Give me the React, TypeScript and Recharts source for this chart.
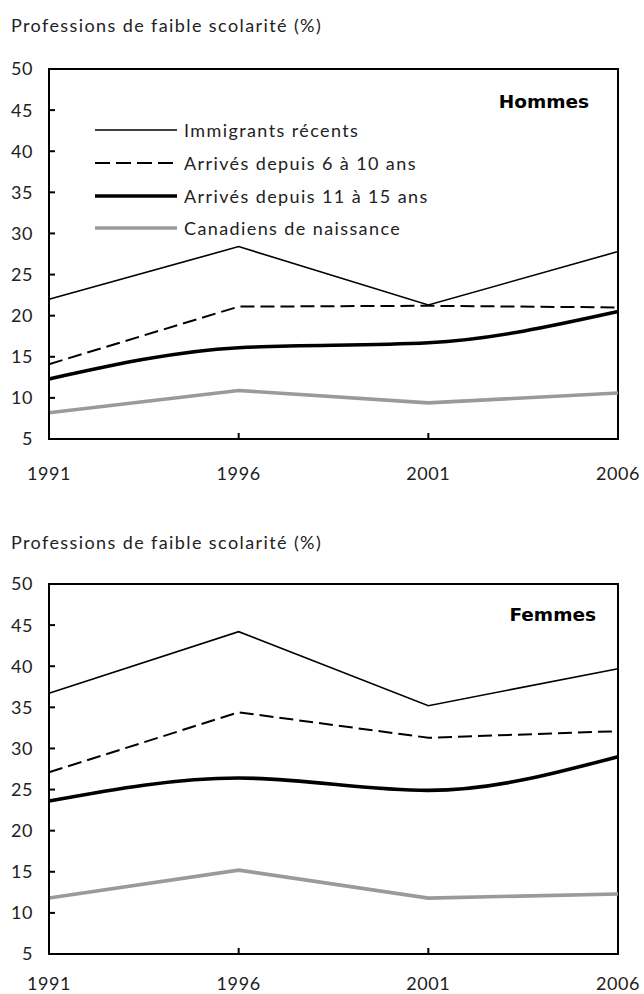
import React from 'react';
import { LineChart, Line, XAxis, YAxis, ReferenceArea, Legend } from 'recharts';

const years = [1991, 1996, 2001, 2006];
const yTicks = [5, 10, 15, 20, 25, 30, 35, 40, 45, 50];

// Hommes
const menRecent = [22.0, 28.4, 21.3, 27.8];
const men6to10 = [14.1, 21.1, 21.2, 21.0];
const men11to15 = [12.3, 16.1, 16.7, 20.5];
const menCanadian = [8.2, 10.9, 9.4, 10.6];

// Femmes
const womenRecent = [36.7, 44.2, 35.2, 39.7];
const women6to10 = [27.1, 34.4, 31.3, 32.1];
const women11to15 = [23.6, 26.4, 24.9, 29.0];
const womenCanadian = [11.8, 15.2, 11.8, 12.3];

const seriesOrder = ['recent', 'mid', 'long', 'canadian'];
const seriesNames: Record<string, string> = {
  recent: 'Immigrants récents',
  mid: 'Arrivés depuis 6 à 10 ans',
  long: 'Arrivés depuis 11 à 15 ans',
  canadian: 'Canadiens de naissance',
};

const FONT = 'Lato, "Open Sans", sans-serif';

const styles: Record<string, { stroke: string; width: number; dash?: string }> = {
  recent: { stroke: '#000', width: 1.6 },
  mid: { stroke: '#000', width: 2, dash: '14 6' },
  long: { stroke: '#000', width: 3.6 },
  canadian: { stroke: '#9a9a9a', width: 3.6 },
};

const buildRows = (a: number[], b: number[], c: number[], d: number[]) =>
  years.map((year, i) => ({ year, recent: a[i], mid: b[i], long: c[i], canadian: d[i] }));

const menData = buildRows(menRecent, men6to10, men11to15, menCanadian);
const womenData = buildRows(womenRecent, women6to10, women11to15, womenCanadian);

const renderLegend = (props: any) => {
  const items = [...(props.payload || [])].sort(
    (a: any, b: any) => seriesOrder.indexOf(a.dataKey) - seriesOrder.indexOf(b.dataKey)
  );
  return (
    <div style={{ fontFamily: FONT, fontSize: 18, letterSpacing: 1.4, color: '#222' }}>
      {items.map((entry: any) => {
        const s = styles[entry.dataKey];
        return (
          <div key={entry.dataKey} style={{ display: 'flex', alignItems: 'center', height: 32.7 }}>
            <svg width={82} height={10} style={{ marginRight: 7 }}>
              <line
                x1={0}
                y1={5}
                x2={82}
                y2={5}
                stroke={s.stroke}
                strokeWidth={s.width}
                strokeDasharray={s.dash ? '15 6' : undefined}
              />
            </svg>
            <span>{entry.value}</span>
          </div>
        );
      })}
    </div>
  );
};

const Panel = ({ data, showLegend, labelGap }: { data: any[]; showLegend: boolean; labelGap: number }) => (
  <LineChart width={644} height={460} data={data} margin={{ top: 28, right: 26, bottom: 12, left: 0 }}>
    <XAxis
      dataKey="year"
      type="number"
      domain={[1991, 2006]}
      ticks={years}
      height={50}
      tickSize={-6}
      tickMargin={labelGap}
      axisLine={{ stroke: '#000', strokeWidth: 2 }}
      tickLine={{ stroke: '#000', strokeWidth: 2 }}
      tick={{ fontFamily: FONT, fontSize: 18, letterSpacing: 0.6, fill: '#222' }}
    />
    <YAxis
      type="number"
      domain={[5, 50]}
      ticks={yTicks}
      width={49}
      tickSize={-6}
      tickMargin={22}
      axisLine={{ stroke: '#000', strokeWidth: 2 }}
      tickLine={{ stroke: '#000', strokeWidth: 2 }}
      tick={{ fontFamily: FONT, fontSize: 18, letterSpacing: 0.6, fill: '#222' }}
    />
    <ReferenceArea x1={1991} x2={2006} y1={5} y2={50} fill="none" stroke="#000" strokeWidth={2} />
    {showLegend && (
      <Legend
        layout="vertical"
        align="center"
        verticalAlign="middle"
        content={renderLegend}
        wrapperStyle={{ left: 95, top: 73, width: 340 }}
      />
    )}
    <Line
      dataKey="recent"
      name={seriesNames.recent}
      type="linear"
      stroke={styles.recent.stroke}
      strokeWidth={styles.recent.width}
      dot={false}
      isAnimationActive={false}
    />
    <Line
      dataKey="mid"
      name={seriesNames.mid}
      type="linear"
      stroke={styles.mid.stroke}
      strokeWidth={styles.mid.width}
      strokeDasharray={styles.mid.dash}
      dot={false}
      isAnimationActive={false}
    />
    <Line
      dataKey="long"
      name={seriesNames.long}
      type="monotone"
      stroke={styles.long.stroke}
      strokeWidth={styles.long.width}
      dot={false}
      isAnimationActive={false}
    />
    <Line
      dataKey="canadian"
      name={seriesNames.canadian}
      type="linear"
      stroke={styles.canadian.stroke}
      strokeWidth={styles.canadian.width}
      dot={false}
      isAnimationActive={false}
    />
  </LineChart>
);

const titleStyle: React.CSSProperties = {
  position: 'absolute',
  left: 11,
  fontFamily: FONT,
  fontSize: 18,
  letterSpacing: 1.4,
  lineHeight: '20px',
  color: '#222',
  whiteSpace: 'nowrap',
};

const panelLabel: React.CSSProperties = {
  position: 'absolute',
  fontFamily: '"DejaVu Sans", sans-serif',
  fontWeight: 'bold',
  fontSize: 18.5,
  lineHeight: '22px',
  color: '#000',
  textAlign: 'right',
  width: 200,
};

export default function App() {
  return (
    <div style={{ position: 'absolute', left: 0, top: 0, width: 644, height: 994, background: '#fff', overflow: 'hidden' }}>
      <div style={{ ...titleStyle, top: 15 }}>Professions de faible scolarité (%)</div>
      <div style={{ position: 'absolute', left: 0, top: 41 }}>
        <Panel data={menData} showLegend={true} labelGap={34} />
      </div>
      <div style={{ ...panelLabel, left: 389, top: 91 }}>Hommes</div>

      <div style={{ ...titleStyle, top: 532 }}>Professions de faible scolarité (%)</div>
      <div style={{ position: 'absolute', left: 0, top: 556 }}>
        <Panel data={womenData} showLegend={false} labelGap={29} />
      </div>
      <div style={{ ...panelLabel, left: 396, top: 604 }}>Femmes</div>
    </div>
  );
}
